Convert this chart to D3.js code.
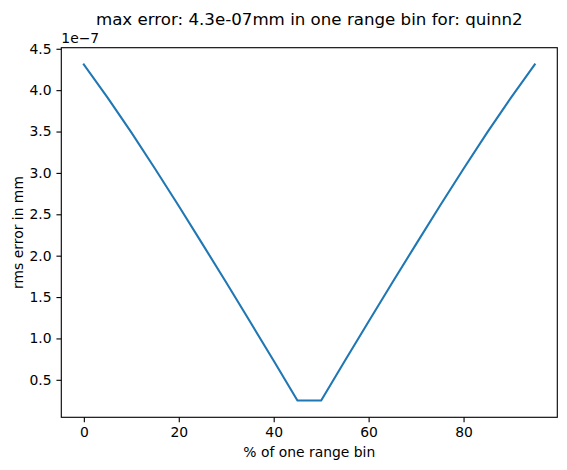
<!DOCTYPE html>
<html>
<head>
<meta charset="utf-8">
<script src="https://cdn.jsdelivr.net/npm/d3@7"></script>
<style>
  html, body { margin: 0; padding: 0; background: #fff; }
  svg { display: block; font-family: "DejaVu Sans", sans-serif; }
</style>
</head>
<body>
<svg id="chart" width="567" height="470"></svg>
<script>
// ---- data ----
const percentOfBin = [0, 5, 10, 15, 20, 25, 30, 35, 40, 45, 50, 55, 60, 65, 70, 75, 80, 85, 90, 95];
const rmsErrorMm = [4.31e-7, 3.91e-7, 3.49e-7, 3.05e-7, 2.60e-7, 2.14e-7, 1.675e-7, 1.205e-7, 0.73e-7, 0.25e-7,
                    0.25e-7, 0.73e-7, 1.205e-7, 1.675e-7, 2.14e-7, 2.60e-7, 3.05e-7, 3.49e-7, 3.91e-7, 4.31e-7];
const xTicks = [0, 20, 40, 60, 80];
const yTicks = [0.5e-7, 1.0e-7, 1.5e-7, 2.0e-7, 2.5e-7, 3.0e-7, 3.5e-7, 4.0e-7, 4.5e-7];
const titleText = "max error: 4.3e-07mm in one range bin for: quinn2";
const xLabel = "% of one range bin";
const yLabel = "rms error in mm";
const offsetText = "1e\u22127";
const yScaleFactor = 1e-7;

// ---- layout ----
const svg = d3.select("#chart");
const L = 61.3, R = 557.3, T = 47.7, B = 417.3;

function padded(ext) {
  const r = ext[1] - ext[0];
  return [ext[0] - 0.05 * r, ext[1] + 0.05 * r];
}
const x = d3.scaleLinear().domain(padded(d3.extent(percentOfBin))).range([L, R]);
const y = d3.scaleLinear().domain(padded(d3.extent(rmsErrorMm))).range([B, T]);

const tickLen = 4.86;
const tickPad = 4.86;

// x axis
const xAxis = d3.axisBottom(x).tickValues(xTicks).tickSize(tickLen).tickPadding(tickPad).tickFormat(d3.format("d"));
const gx = svg.append("g").attr("transform", `translate(0,${B})`).call(xAxis);
gx.select(".domain").remove();
gx.selectAll(".tick line").attr("stroke", "#000").attr("stroke-width", 1.11);
gx.selectAll(".tick text").attr("fill", "#000").attr("font-size", 13.9).attr("font-family", "DejaVu Sans");

// y axis
const yAxis = d3.axisLeft(y).tickValues(yTicks).tickSize(tickLen).tickPadding(tickPad)
  .tickFormat(d => (d / yScaleFactor).toFixed(1));
const gy = svg.append("g").attr("transform", `translate(${L},0)`).call(yAxis);
gy.select(".domain").remove();
gy.selectAll(".tick line").attr("stroke", "#000").attr("stroke-width", 1.11);
gy.selectAll(".tick text").attr("fill", "#000").attr("font-size", 13.9).attr("font-family", "DejaVu Sans");

// line
const line = d3.line().x((d, i) => x(percentOfBin[i])).y(d => y(d));
svg.append("path")
  .datum(rmsErrorMm)
  .attr("d", line)
  .attr("fill", "none")
  .attr("stroke", "#1f77b4")
  .attr("stroke-width", 2.08)
  .attr("stroke-linejoin", "round")
  .attr("stroke-linecap", "square");

// spines
svg.append("rect")
  .attr("x", L).attr("y", T).attr("width", R - L).attr("height", B - T)
  .attr("fill", "none").attr("stroke", "#000").attr("stroke-width", 1.11);

// offset text
svg.append("text").attr("x", L).attr("y", 42.7)
  .attr("font-size", 13.9).attr("fill", "#000").text(offsetText);

// title
svg.append("text").attr("x", (L + R) / 2).attr("y", 25)
  .attr("text-anchor", "middle").attr("font-size", 16.67).attr("fill", "#000").text(titleText);

// x label
svg.append("text").attr("x", (L + R) / 2).attr("y", 456.5)
  .attr("text-anchor", "middle").attr("font-size", 13.9).attr("fill", "#000").text(xLabel);

// y label
svg.append("text")
  .attr("transform", `translate(22.5,${(T + B) / 2}) rotate(-90)`)
  .attr("text-anchor", "middle").attr("font-size", 13.9).attr("fill", "#000").text(yLabel);
</script>
</body>
</html>
